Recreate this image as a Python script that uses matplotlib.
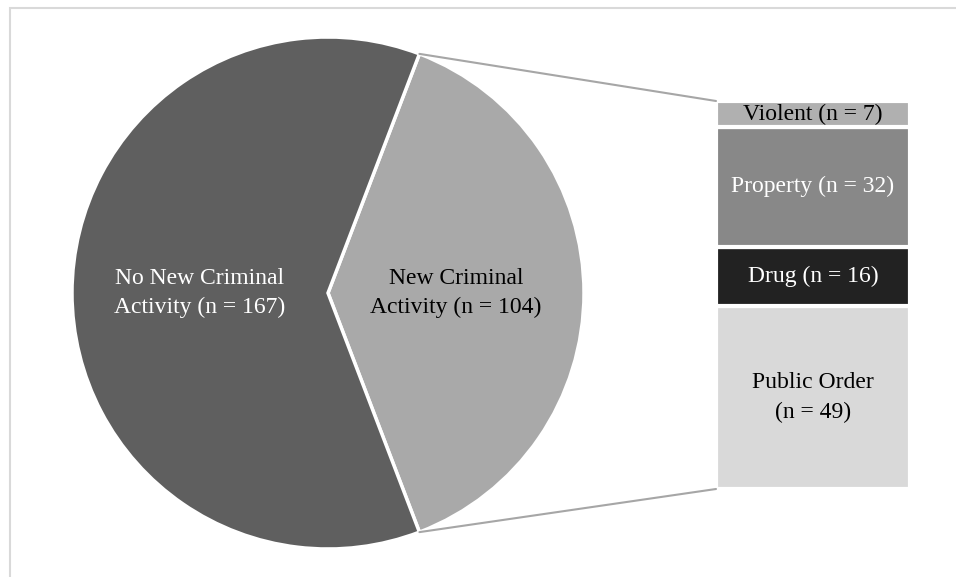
import matplotlib.pyplot as plt
import numpy as np
from matplotlib.patches import ConnectionPatch, Rectangle

plt.rcParams['font.family'] = ['Liberation Serif', 'DejaVu Serif']

# pie: reoffending split
pie_labels = ['New Criminal\nActivity (n = 104)', 'No New Criminal\nActivity (n = 167)']
pie_values = [104, 167]
pie_colors = ['#a9a9a9', '#5f5f5f']

# bar: offence type breakdown, stacked bottom -> top
bar_labels = ['Public Order\n(n = 49)', 'Drug (n = 16)', 'Property (n = 32)', 'Violent (n = 7)']
bar_values = [49, 16, 32, 7]
bar_colors = ['#d9d9d9', '#222222', '#888888', '#b0b0b0']
bar_text_colors = ['black', 'white', 'white', 'black']

W, H = 956, 577
fig = plt.figure(figsize=(W / 100, H / 100), dpi=100)

# pie axes: center (328, 293) px, radius 256 px
cx, cy, r = 328, 293, 256
ax1 = fig.add_axes([(cx - r) / W, (H - cy - r) / H, 2 * r / W, 2 * r / H])
half = pie_values[0] / sum(pie_values) * 180
wedges, _ = ax1.pie(pie_values, colors=pie_colors, startangle=-half, radius=1,
                    wedgeprops=dict(edgecolor='white', linewidth=2.5))
for w in wedges:
    w.set_clip_on(False)
for w, lab in zip(wedges, pie_labels):
    ang = np.deg2rad((w.theta1 + w.theta2) / 2)
    col = 'white' if w.get_facecolor()[0] < 0.5 else 'black'
    ax1.text(0.5 * np.cos(ang), 0.5 * np.sin(ang), lab, ha='center', va='center',
             fontsize=17, color=col, linespacing=1.5)
ax1.set_xlim(-1, 1)
ax1.set_ylim(-1, 1)
ax1.axis('off')

# stacked bar axes
bx0, bx1, by0, by1 = 716, 910, 101, 489
ax2 = fig.add_axes([bx0 / W, (H - by1) / H, (bx1 - bx0) / W, (by1 - by0) / H])
bottom = 0
for v, c, lab, tc in zip(bar_values, bar_colors, bar_labels, bar_text_colors):
    ax2.bar(0, v, bottom=bottom, width=1, color=c, edgecolor='white', linewidth=3)
    ax2.text(0, bottom + v / 2, lab, ha='center', va='center', fontsize=17,
             color=tc, linespacing=1.5)
    bottom += v
ax2.set_xlim(-0.5, 0.5)
ax2.set_ylim(0, sum(bar_values))
ax2.axis('off')

# connector lines from wedge edges to bar corners
t = np.deg2rad(half)
for (px, py), (qx, qy) in [((np.cos(t), np.sin(t)), (-0.5, sum(bar_values))),
                           ((np.cos(t), -np.sin(t)), (-0.5, 0))]:
    con = ConnectionPatch(xyA=(px, py), coordsA=ax1.transData,
                          xyB=(qx, qy), coordsB=ax2.transData,
                          color='#a6a6a6', linewidth=1.5)
    fig.add_artist(con)

# chart frame
fig.add_artist(Rectangle((9.5 / W, -0.1), 2, (H - 7.5) / H + 0.1, transform=fig.transFigure,
                         fill=False, edgecolor='#d9d9d9', linewidth=1.5))

fig.savefig('out.png', dpi=100)
